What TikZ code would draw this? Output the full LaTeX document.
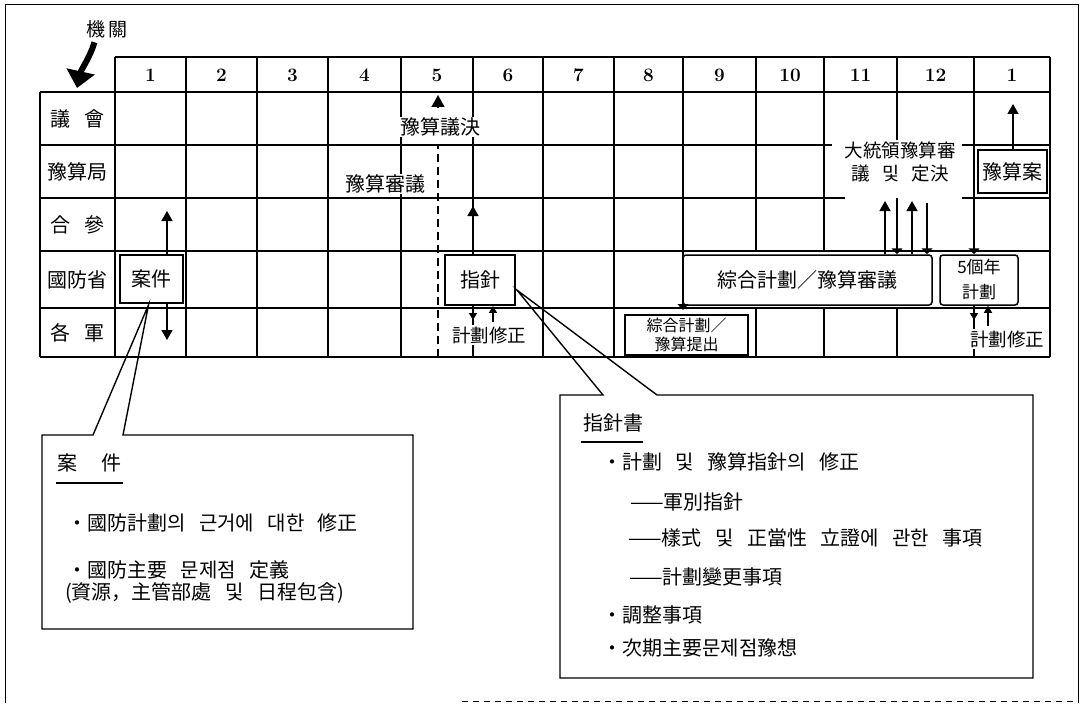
\documentclass[tikz,border=0pt]{standalone}
\usepackage{fontspec}
\newfontfamily\kr{Noto Sans CJK KR}[WordSpace=3]
\usetikzlibrary{arrows.meta,calc}
\tikzset{
  grid/.style={line width=1.5pt},
  arr/.style={line width=1.4pt,-{Triangle[length=10pt,width=11pt]}},
  sarr/.style={line width=1.3pt,-{Triangle[length=7pt,width=8pt]}},
  blob/.style={-{Triangle[length=6pt,width=11pt]}},
  f20/.style={font=\kr\fontsize{20}{24}\selectfont},
  f18/.style={font=\kr\fontsize{18.5}{22.5}\selectfont},
  num/.style={font=\bfseries\fontsize{19}{22}\selectfont},
  dbox/.style={draw, line width=1.8pt, fill=white, inner sep=0pt},
  rbox/.style={draw, line width=1.5pt, rounded corners=3pt, fill=white, inner sep=0pt},
  callout/.style={line width=1.4pt, line join=miter},
  frame/.style={line width=1pt},
  wl/.style={f20, anchor=west, inner sep=0pt},
  lbl/.style={fill=white, inner sep=1pt},
  dashline/.style={line width=1.5pt, dash pattern=on 8pt off 5pt}
}
\begin{document}
\begin{tikzpicture}[x=1pt,y=-1pt]
\useasboundingbox (0,0) rectangle (1081,706);
% outer frame
\draw[frame] (5,703) -- (5,5) -- (1078,5) -- (1078,703);
\draw[frame,dash pattern=on 6pt off 5pt] (462,701) -- (1078,701);

% grid: horizontals
\draw[grid] (115,57) -- (1050,57);
\draw[grid] (40,92) -- (1050,92);
\draw[grid] (40,145) -- (832,145) (962,145) -- (1050,145);
\draw[grid] (40,198) -- (845,198) (962,198) -- (1050,198);
\draw[grid] (40,251) -- (1050,251);
\draw[grid] (40,308) -- (1050,308);
\draw[grid] (40,357) -- (1050,357);
% grid: verticals
\draw[grid] (40,92) -- (40,357);
\foreach \x in {115,186,257,328,401,473,543,614,1050} \draw[grid] (\x,57) -- (\x,357);
\foreach \x in {756,824} \draw[grid] (\x,57) -- (\x,251) (\x,308) -- (\x,357);
\draw[grid] (897,57) -- (897,140) (897,308) -- (897,357);
\draw[grid] (974,318) -- (974,357);

% header
\foreach \x/\n [count=\i] in {150.5/1,221.5/2,292.5/3,364.5/4,437/5,508/6,578.5/7,648.5/8,719.5/9,790/10,860.5/11,935.5/12,1012/1}
  \node[num] (h\i) at (\x,75) {\n};

% row labels
\node[f20] (r1) at (77.5,118.5) {議 會};
\node[f20] (r2) at (77.5,171.5) {豫算局};
\node[f20] (r3) at (77.5,224.5) {合 參};
\node[f20] (r4) at (77.5,279.5) {國防省};
\node[f20] (r5) at (77.5,332.5) {各 軍};

% agency label and arrow
\node[font=\kr\fontsize{19}{22}\selectfont] (jg) at (107,29) {機\hspace{4pt}關};
\coordinate (ja) at (77,88);
\draw[line width=6pt,-{Triangle[length=17pt,width=28pt]}] ($(jg.south west)+(12,1)$) .. controls +(-4,14) and +(4,-18) .. (ja);

% boxes
\node[dbox,f20,minimum width=63pt,minimum height=48pt] (an) at (151.5,279) {案件};
\node[dbox,f20,minimum width=70pt,minimum height=50pt] (zn) at (480,280) {指針};
\node[rbox,f20,minimum width=249pt,minimum height=50pt] (zh) at (807.5,280) {綜合計劃／豫算審議};
\node[rbox,font=\kr\fontsize{17}{25}\selectfont,minimum width=78pt,minimum height=50pt,align=center] (fy) at (979,280) {5個年\\計劃};
\node[dbox,f20,minimum width=69pt,minimum height=43pt] (ya) at (1012.5,171.5) {豫算案};
\node[dbox,font=\kr\fontsize{16}{19}\selectfont,minimum width=123pt,minimum height=40pt,align=center] (tc) at (686.5,335) {綜合計劃／\\豫算提出};

% in-grid labels
\node[f20,lbl] (yj) at (440,127) {豫算議決};
\node[f20,lbl] (ys) at (385,184) {豫算審議};
\node[f18,align=center] (pr) at (900,162) {大統領豫算審\\議 및 定決};
\node[f18,lbl] (m1) at (489,335) {計劃修正};
\node[f18,lbl] (m2) at (1007,339) {計劃修正};

% dashed budget line
\coordinate (db) at (438,357);
\coordinate (dm) at (438,145);
\draw[dashline] (db) -- (dm);
\coordinate (dt0) at (438,108);
\coordinate (dt) at (438,95);
\draw[line width=1.4pt,-{Triangle[length=12pt,width=13pt]}] (dt0) -- (dt);

% column lines ending in blobs
\coordinate (c8) at (683,57);
\draw[grid,blob] (c8) -- (683,310);
\coordinate (c12) at (974,57);
\draw[grid,blob] (c12) -- (c12 |- fy.north);
\coordinate (d1) at (897,198);
\draw[grid,blob] (d1) -- (d1 |- zh.north);
\coordinate (d2) at (927,203);
\draw[line width=1.3pt,blob] (d2) -- (d2 |- zh.north);
\coordinate (u1) at (885,201);
\coordinate (u2) at (912,201);
\draw[arr] (u1 |- zh.north) -- (u1);
\draw[arr] (u2 |- zh.north) -- (u2);

% arrows around boxes
\coordinate (a1) at (167,211);
\coordinate (a2) at (167,340);
\draw[arr] (a1 |- an.north) -- (a1);
\draw[arr] (a2 |- an.south) -- (a2);
\coordinate (z1) at (473,206);
\draw[arr] (z1 |- zn.north) -- (z1);
\coordinate (z2) at (473,320);
\draw[sarr] (z2 |- zn.south) -- (z2);
\coordinate (z3) at (493,322);
\draw[sarr] (z3) -- (z3 |- zn.south);
\coordinate (f1) at (974,320);
\draw[sarr] (f1 |- fy.south) -- (f1);
\coordinate (f2) at (988,326);
\draw[sarr] (f2) -- (f2 |- fy.south);
\coordinate (y1) at (1013,104);
\draw[arr] (y1 |- ya.north) -- (y1);

% callout boxes
\coordinate (ap1) at ($(an.south)+(-3,1)$);
\draw[callout] (123,435) -- (ap1) -- (93,435) -- (42,435) -- (42,629) -- (413,629) -- (413,435) -- cycle;
\coordinate (ap2) at ($(zn.east)+(1,10)$);
\draw[callout] (657,395) -- (ap2) -- (603,395) -- (560,395) -- (560,678) -- (1033,678) -- (1033,395) -- cycle;

% legend: 案件
\node[wl] (t1) at (57,463) {案\hspace{24pt}件};
\draw[line width=1.2pt] ($(t1.west)+(-1,20)$) -- ($(t1.east)+(2,20)$);
\node[wl] (t2) at (67,523) {・國防計劃의 근거에 대한 修正};
\node[wl] (t3) at (67,570) {・國防主要 문제점 定義};
\node[wl] (t4) at (65,593) {(資源，主管部處 및 日程包含)};

% legend: 指針書
\node[wl] (s0) at (583,423) {指針書};
\draw[line width=1.2pt] ($(s0.west)+(-2,19)$) -- ($(s0.east)+(0,19)$);
\node[wl] (s1) at (602,462) {・計劃 및 豫算指針의 修正};
\node[wl] (s2) at (630,502) {——軍別指針};
\node[wl] (s3) at (628,538) {——樣式 및 正當性 立證에 관한 事項};
\node[wl] (s4) at (629,577) {——計劃變更事項};
\node[wl] (s5) at (602,615) {・調整事項};
\node[wl] (s6) at (602,648) {・次期主要문제점豫想};
\end{tikzpicture}
\end{document}
